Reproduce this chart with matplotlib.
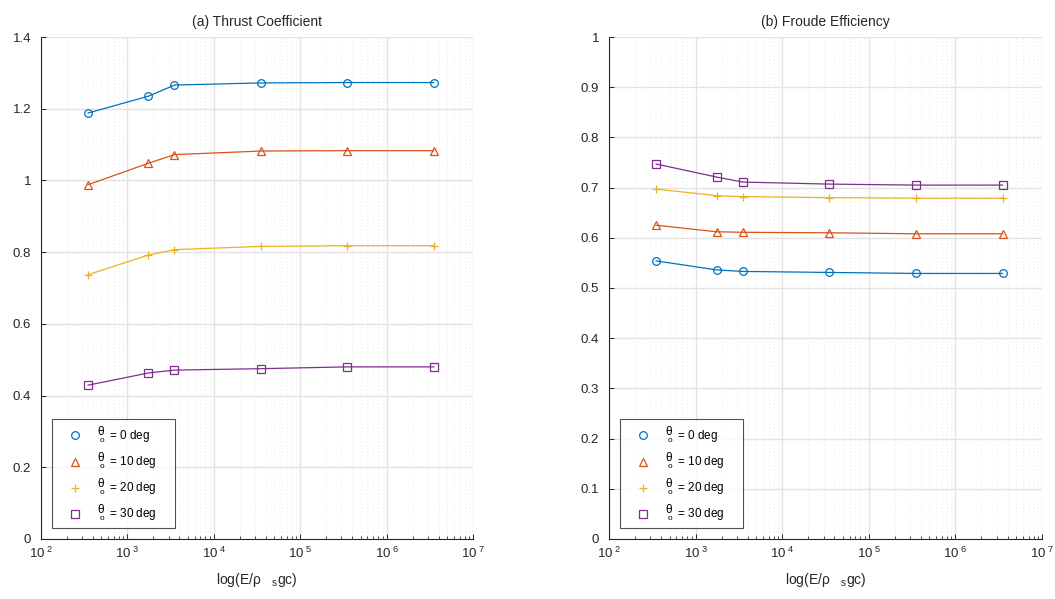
import numpy as np
import matplotlib
matplotlib.use("Agg")
import matplotlib.pyplot as plt
from matplotlib.ticker import FixedLocator, LogLocator, FuncFormatter, NullFormatter

plt.rcParams['font.family'] = ['Liberation Sans', 'DejaVu Sans']
plt.rcParams['mathtext.fontset'] = 'custom'
plt.rcParams['mathtext.rm'] = 'Liberation Sans'
plt.rcParams['mathtext.it'] = 'Liberation Sans'

# x values (E / rho_s g c)
energy = [350, 1750, 3500, 35000, 350000, 3500000]
angles = [0, 10, 20, 30]

# (a) thrust coefficient
ct_0 = [1.188, 1.235, 1.266, 1.272, 1.273, 1.273]
ct_10 = [0.988, 1.048, 1.072, 1.082, 1.083, 1.083]
ct_20 = [0.737, 0.792, 0.807, 0.816, 0.818, 0.818]
ct_30 = [0.429, 0.463, 0.471, 0.475, 0.480, 0.480]

# (b) Froude efficiency
eta_0 = [0.554, 0.536, 0.533, 0.531, 0.529, 0.529]
eta_10 = [0.625, 0.612, 0.611, 0.610, 0.608, 0.608]
eta_20 = [0.697, 0.684, 0.682, 0.680, 0.679, 0.679]
eta_30 = [0.747, 0.721, 0.711, 0.707, 0.705, 0.705]

colors = ['#0072BD', '#D95319', '#EDB120', '#7E2F8E']
markers = ['o', '^', '+', 's']

fig = plt.figure(figsize=(10.55, 5.99), dpi=100)
ax1 = fig.add_axes([0.0389, 0.1002, 0.4095, 0.838])
ax2 = fig.add_axes([0.5773, 0.1002, 0.4104, 0.838])


def xfmt(v, pos):
    e = int(round(np.log10(v)))
    return r'$\mathregular{10^{\ %d}}$' % e


def setup(ax, series, ymax, ystep, title):
    for s, c, m, a in zip(series, colors, markers, angles):
        ax.plot(energy, s, color=c, marker=m, markersize=5.5, markerfacecolor='none',
                markeredgewidth=0.9, linewidth=0.9,
                label=r'$\mathregular{\genfrac{}{}{0}{0}{\theta}{{}_{\ \ o}}}$ = %d deg' % a)
    ax.set_xscale('log')
    ax.set_xlim(1e2, 1e7)
    ax.set_ylim(0, ymax)
    ax.yaxis.set_major_locator(FixedLocator(np.round(np.arange(0, ymax + 1e-9, ystep), 2)))
    ax.yaxis.set_major_formatter(FuncFormatter(lambda v, p: '%g' % v))
    ax.xaxis.set_major_locator(FixedLocator([1e2, 1e3, 1e4, 1e5, 1e6, 1e7]))
    ax.xaxis.set_major_formatter(FuncFormatter(xfmt))
    ax.xaxis.set_minor_locator(LogLocator(base=10, subs=np.arange(2, 10), numticks=20))
    ax.xaxis.set_minor_formatter(NullFormatter())
    ax.grid(True, which='major', color='#e3e3e3', linewidth=1.0)
    ax.grid(True, which='minor', axis='x', color='#d4d4d4', linestyle=(0, (1, 4)), linewidth=0.5)
    ax.set_axisbelow(True)
    for sp in ['top', 'right']:
        ax.spines[sp].set_visible(False)
    for sp in ['left', 'bottom']:
        ax.spines[sp].set_color('#262626')
        ax.spines[sp].set_linewidth(0.8)
    ax.tick_params(which='major', direction='in', length=3.5, width=0.7, colors='#262626',
                   labelsize=9.5, labelcolor='#262626')
    ax.tick_params(axis='y', pad=7)
    ax.tick_params(axis='x', pad=5)
    ax.tick_params(which='minor', direction='in', length=2, width=0.6, colors='#262626')
    ax.set_title(title, fontsize=10, color='#262626', pad=8)
    ax.set_xlabel(r'log(E/ρ$\mathregular{{\ \ \ }_s}$gc)', fontsize=10, color='#262626', labelpad=7)
    leg = ax.legend(loc='lower left', bbox_to_anchor=(0.025, 0.022, 0.285, 0.2), mode='expand',
                    borderaxespad=0, fontsize=8.5, frameon=True, fancybox=False,
                    edgecolor='#262626', labelspacing=0.45, handlelength=3.1,
                    handletextpad=0.15, borderpad=0.4, markerscale=1.0)
    leg.get_frame().set_linewidth(0.8)
    for h in leg.legend_handles:
        h.set_linestyle('none')


setup(ax1, [ct_0, ct_10, ct_20, ct_30], 1.4, 0.2, '(a) Thrust Coefficient')
setup(ax2, [eta_0, eta_10, eta_20, eta_30], 1.0, 0.1, '(b) Froude Efficiency')

fig.savefig('out.png', dpi=100)
